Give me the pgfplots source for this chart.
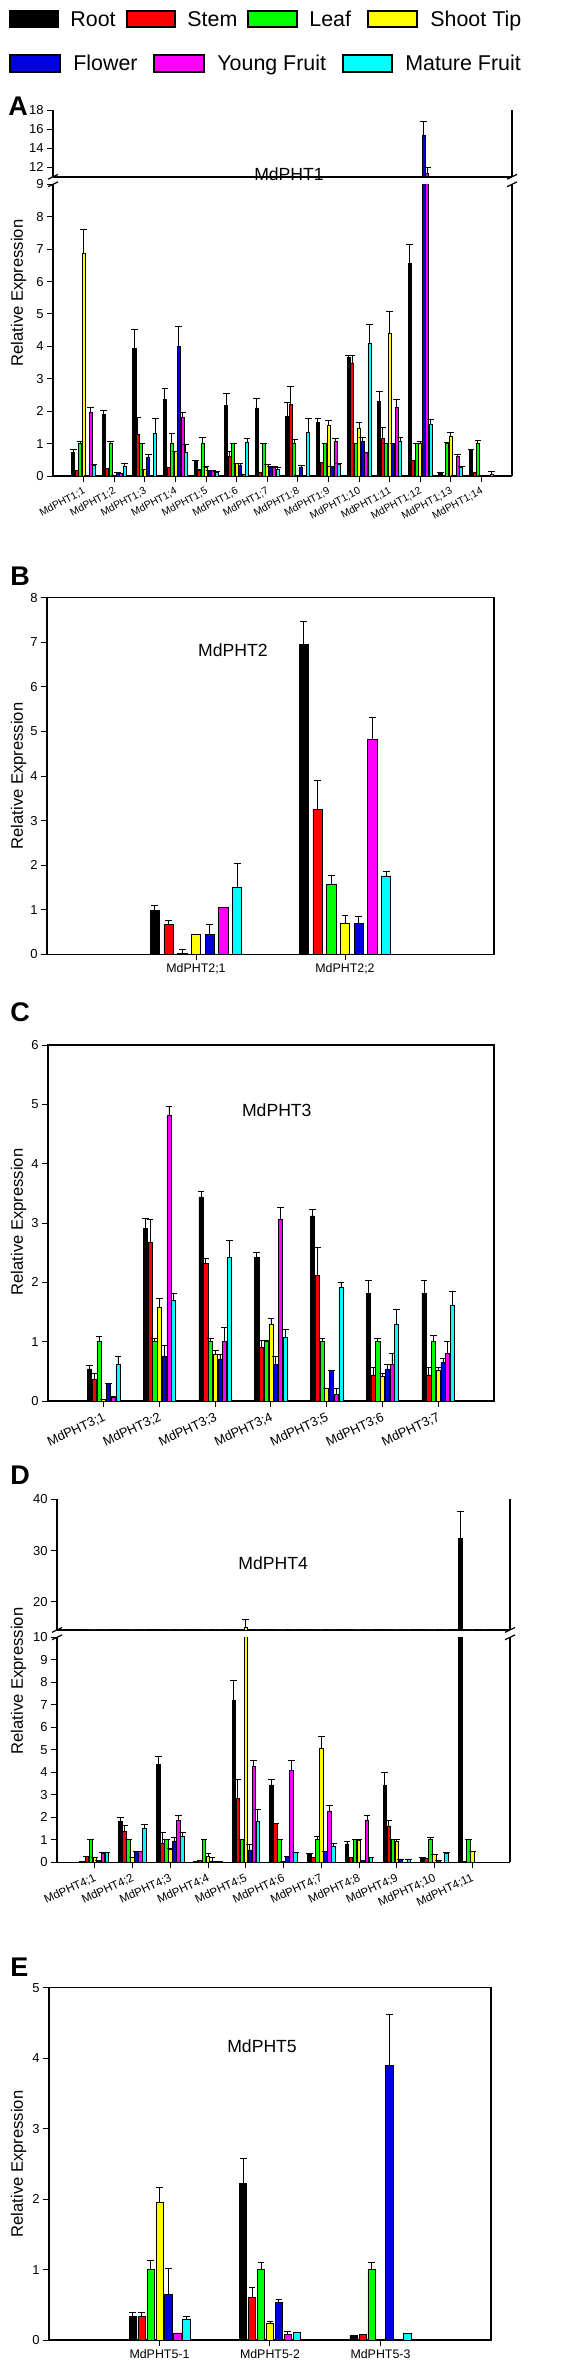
\documentclass[border=0pt]{standalone}
\usepackage{fontspec}
\setmainfont{Liberation Sans}
\usepackage{pgfplots}
\usepackage{pgfplotstable}
\pgfplotsset{compat=1.18}

\definecolor{cRoot}{RGB}{0,0,0}
\definecolor{cStem}{RGB}{255,0,0}
\definecolor{cLeaf}{RGB}{0,255,0}
\definecolor{cTip}{RGB}{255,255,0}
\definecolor{cFlower}{RGB}{0,0,225}
\definecolor{cYF}{RGB}{255,0,255}
\definecolor{cMF}{RGB}{0,255,255}

\pgfplotstableread{
x r re s se l le t te f fe y ye m me
1 0.72 0.10 0.17 0.00 1.00 0.08 6.88 0.72 0.02 0.00 1.95 0.18 0.34 0.02
2 1.89 0.12 0.24 0.00 1.00 0.08 0.02 0.00 0.11 0.00 0.08 0.00 0.29 0.10
3 3.94 0.58 1.30 0.50 1.00 0.02 0.20 0.00 0.59 0.08 0.02 0.00 1.31 0.47
4 2.37 0.34 0.27 0.00 1.00 0.32 0.76 0.00 3.99 0.61 1.80 0.17 0.72 0.24
5 0.48 0.01 0.19 0.00 1.00 0.18 0.26 0.02 0.18 0.00 0.17 0.00 0.10 0.04
6 2.17 0.37 0.60 0.15 1.00 0.01 0.38 0.00 0.32 0.07 0.05 0.00 1.05 0.10
7 2.10 0.30 0.10 0.00 1.00 0.01 0.35 0.02 0.27 0.02 0.28 0.03 0.21 0.04
8 1.84 0.43 2.22 0.53 1.00 0.12 0.02 0.00 0.28 0.06 0.02 0.00 1.34 0.43
9 1.65 0.12 0.41 0.00 1.00 0.01 1.55 0.15 0.29 0.00 1.06 0.09 0.36 0.03
10 3.66 0.05 3.47 0.24 1.00 0.01 1.47 0.18 1.06 0.13 0.72 0.00 4.10 0.59
11 2.29 0.31 1.15 0.35 1.00 0.01 4.41 0.67 1.00 0.01 2.12 0.25 1.08 0.11
12 6.55 0.60 0.49 0.00 1.00 0.02 1.00 0.08 15.40 1.40 11.40 0.60 1.58 0.15
13 0.08 0.02 0.02 0.00 1.00 0.05 1.22 0.12 0.02 0.00 0.60 0.05 0.26 0.02
14 0.80 0.02 0.10 0.00 1.00 0.09 0.01 0.00 0.01 0.00 0.03 0.00 0.05 0.08
}\dataA

\pgfplotstableread{
x r re s se l le t te f fe y ye m me
1 0.99 0.11 0.67 0.09 0.02 0.08 0.45 0.00 0.45 0.22 1.06 0.00 1.51 0.53
2 6.96 0.50 3.26 0.64 1.58 0.20 0.70 0.17 0.70 0.16 4.83 0.48 1.76 0.11
}\dataB

\pgfplotstableread{
x r re s se l le t te f fe y ye m me
1 0.54 0.06 0.37 0.09 1.00 0.08 0.03 0.00 0.30 0.00 0.07 0.00 0.61 0.14
2 2.91 0.17 2.68 0.38 1.00 0.06 1.58 0.15 0.76 0.17 4.81 0.15 1.69 0.12
3 3.44 0.09 2.32 0.09 1.00 0.06 0.79 0.06 0.71 0.07 1.00 0.24 2.42 0.29
4 2.42 0.09 0.90 0.12 1.00 0.02 1.29 0.11 0.61 0.14 3.07 0.20 1.08 0.12
5 3.12 0.11 2.12 0.47 1.00 0.06 0.22 0.00 0.51 0.01 0.11 0.11 1.91 0.08
6 1.82 0.21 0.44 0.13 1.00 0.06 0.41 0.06 0.54 0.07 0.61 0.19 1.30 0.25
7 1.82 0.21 0.44 0.13 1.00 0.10 0.51 0.06 0.65 0.06 0.80 0.20 1.61 0.24
}\dataC

\pgfplotstableread{
x r re s se l le t te f fe y ye m me
1 0.02 0.00 0.25 0.00 1.00 0.00 0.20 0.03 0.10 0.00 0.40 0.03 0.45 0.01
2 1.81 0.19 1.37 0.29 1.00 0.00 0.21 0.00 0.50 0.00 0.50 0.00 1.53 0.16
3 4.36 0.34 0.85 0.47 1.00 0.00 0.58 0.04 0.95 0.15 1.86 0.21 1.15 0.18
4 0.03 0.00 0.10 0.00 1.00 0.00 0.25 0.15 0.06 0.16 0.05 0.00 0.05 0.00
5 7.22 0.88 2.85 0.85 1.00 0.00 15.00 1.50 0.55 0.25 4.26 0.29 1.84 0.49
6 3.44 0.26 1.73 0.00 1.00 0.00 0.02 0.00 0.25 0.00 4.08 0.47 0.43 0.00
7 0.40 0.00 0.20 0.00 1.00 0.14 5.07 0.52 0.47 0.00 2.25 0.27 0.73 0.12
8 0.82 0.10 0.22 0.00 1.00 0.00 0.96 0.06 0.10 0.00 1.88 0.22 0.20 0.00
9 3.40 0.60 1.62 0.26 1.00 0.00 0.95 0.07 0.15 0.00 0.01 0.00 0.15 0.00
10 0.22 0.00 0.18 0.00 1.00 0.10 0.37 0.00 0.08 0.00 0.01 0.00 0.40 0.03
11 32.40 5.20 0.02 0.00 1.00 0.00 0.47 0.00 0.00 0.00 0.00 0.00 0.00 0.00
}\dataD

\pgfplotstableread{
x r re s se l le t te f fe y ye m me
1 0.33 0.06 0.33 0.06 1.00 0.13 1.96 0.21 0.65 0.37 0.10 0.00 0.30 0.03
2 2.22 0.36 0.61 0.13 1.00 0.10 0.24 0.02 0.53 0.05 0.08 0.04 0.11 0.00
3 0.07 0.00 0.08 0.00 1.00 0.10 0.00 0.00 3.90 0.72 0.00 0.00 0.09 0.01
}\dataE

\pgfplotsset{
 panel/.style={scale only axis, anchor=south west, tick align=outside, tick pos=left,
   clip mode=individual,
   major tick length=3pt, tick style={black, line width=0.5pt},
   axis line style={line width=0.75pt},
   /pgf/number format/assume math mode=true,
   yticklabel style={font=\fontsize{6.5}{7.5}\selectfont, inner sep=1.5pt},
   xticklabel style={font=\fontsize{6.2}{7}\selectfont, inner sep=1.5pt}},
 brokenlow/.style={axis x line*=bottom, axis y line*=box, x axis line style={-}, y axis line style={-}},
 brokenup/.style={axis x line*=top, axis y line*=box, x axis line style={-}, y axis line style={-}, xtick=\empty},
 eb/.style={error bars/y dir=plus, error bars/y explicit,
   error bars/error bar style={line width=0.45pt, black},
   error bars/error mark=-,
   error bars/error mark options={rotate=90, line width=0.45pt, black, mark size=1.7pt}},
 bb/.style={ybar, bar shift=0pt, draw=black, line width=0.35pt},
}

\newcommand\seven[9]{%
 \addplot[bb, fill=cRoot, bar width=#2, eb] table[x expr=\thisrow{x}+(#3),y=r,y error=re]{#1};
 \addplot[bb, fill=cStem, bar width=#2, eb] table[x expr=\thisrow{x}+(#4),y=s,y error=se]{#1};
 \addplot[bb, fill=cLeaf, bar width=#2, eb] table[x expr=\thisrow{x}+(#5),y=l,y error=le]{#1};
 \addplot[bb, fill=cTip, bar width=#2, eb] table[x expr=\thisrow{x}+(#6),y=t,y error=te]{#1};
 \addplot[bb, fill=cFlower, bar width=#2, eb] table[x expr=\thisrow{x}+(#7),y=f,y error=fe]{#1};
 \addplot[bb, fill=cYF, bar width=#2, eb] table[x expr=\thisrow{x}+(#8),y=y,y error=ye]{#1};
 \addplot[bb, fill=cMF, bar width=#2, eb] table[x expr=\thisrow{x}+(#9),y=m,y error=me]{#1};
}

\newcommand\titlefont{\fontsize{8.8}{10}\selectfont}
\newcommand\ylabfont{\fontsize{8.3}{9.5}\selectfont}

\begin{document}
\begin{tikzpicture}
\useasboundingbox (0,0) rectangle (290pt,-1183.5pt);

% legend
\begin{scope}[line width=0.6pt]
\filldraw[fill=cRoot, draw=black] (5pt,-5.5pt) rectangle (29pt,-13.5pt);
\filldraw[fill=cStem, draw=black] (63.5pt,-5.5pt) rectangle (87.5pt,-13.5pt);
\filldraw[fill=cLeaf, draw=black] (124pt,-5.5pt) rectangle (148.5pt,-13.5pt);
\filldraw[fill=cTip, draw=black] (184pt,-5.5pt) rectangle (208.5pt,-13.5pt);
\filldraw[fill=cFlower, draw=black] (5pt,-27.5pt) rectangle (30pt,-36pt);
\filldraw[fill=cYF, draw=black] (77pt,-27.5pt) rectangle (102pt,-36pt);
\filldraw[fill=cMF, draw=black] (171.5pt,-27.5pt) rectangle (196pt,-36pt);
\end{scope}
\begin{scope}[every node/.style={anchor=base west, inner sep=0pt, font=\fontsize{10.7}{12}\selectfont}]
\node at (35pt,-13.3pt) {Root};
\node at (93.5pt,-13.3pt) {Stem};
\node at (154.5pt,-13.3pt) {Leaf};
\node at (215pt,-13.3pt) {Shoot Tip};
\node at (36.5pt,-35.3pt) {Flower};
\node at (108.5pt,-35.3pt) {Young Fruit};
\node at (202.5pt,-35.3pt) {Mature Fruit};
\end{scope}

% panel letters
\begin{scope}[every node/.style={anchor=base west, inner sep=0pt, font=\fontsize{13.5}{15}\selectfont\bfseries}]
\node at (4pt,-57.5pt) {A};
\node at (5pt,-292.5pt) {B};
\node at (5pt,-510.5pt) {C};
\node at (5pt,-742pt) {D};
\node at (5pt,-988.3pt) {E};
\end{scope}

% y labels
\begin{scope}[every node/.style={rotate=90, anchor=center, inner sep=0pt, font=\ylabfont}]
\node at (9.25pt,-146.5pt) {Relative Expression};
\node at (9.25pt,-388pt) {Relative Expression};
\node at (9.25pt,-611pt) {Relative Expression};
\node at (9.25pt,-840.5pt) {Relative Expression};
\node at (9.25pt,-1082pt) {Relative Expression};
\end{scope}

% ---------- Panel A ----------
\begin{axis}[panel, brokenlow, name=Alo, at={(26.5pt,-238pt)}, width=229.5pt, height=145.85pt,
  xmin=0, xmax=15, ymin=0, ymax=9, ytick={0,1,...,9},
  xtick={1,...,14},
  xticklabels={MdPHT1;1,MdPHT1;2,MdPHT1;3,MdPHT1;4,MdPHT1;5,MdPHT1;6,MdPHT1;7,MdPHT1;8,MdPHT1;9,MdPHT1;10,MdPHT1;11,MdPHT1;12,MdPHT1;13,MdPHT1;14},
  xticklabel style={rotate=28, anchor=north east, font=\fontsize{5.2}{6}\selectfont}]
\seven{\dataA}{0.10}{-0.342}{-0.228}{-0.114}{0}{0.114}{0.228}{0.342}
\end{axis}
\begin{axis}[panel, brokenup, name=Aup, at={(26.5pt,-88.4pt)}, width=229.5pt, height=33.25pt,
  xmin=0, xmax=15, ymin=11, ymax=18, ytick={12,14,16,18}]
\seven{\dataA}{0.10}{-0.342}{-0.228}{-0.114}{0}{0.114}{0.228}{0.342}
\end{axis}
\node[font=\titlefont] at (144.5pt,-87pt) {MdPHT1};
\begin{scope}[line width=0.6pt]
\draw (Aup.south west) ++(-2.5pt,-1.2pt) -- ++(5pt,2.4pt);
\draw (Alo.north west) ++(-2.5pt,-1.2pt) -- ++(5pt,2.4pt);
\draw (Aup.south east) ++(-2.5pt,-1.2pt) -- ++(5pt,2.4pt);
\draw (Alo.north east) ++(-2.5pt,-1.2pt) -- ++(5pt,2.4pt);
\end{scope}

% ---------- Panel B ----------
\begin{axis}[panel, name=B, at={(23.5pt,-477.15pt)}, width=223.5pt, height=178.3pt,
  xmin=0, xmax=3, ymin=0, ymax=8, ytick={0,1,...,8},
  xtick={1,2}, xticklabels={MdPHT2;1,MdPHT2;2}]
\seven{\dataB}{0.063}{-0.276}{-0.184}{-0.092}{0}{0.092}{0.184}{0.276}
\node[font=\titlefont] at (rel axis cs:0.416,0.853) {MdPHT2};
\end{axis}

% ---------- Panel C ----------
\begin{axis}[panel, name=C, at={(24pt,-700.5pt)}, width=223pt, height=178pt,
  xmin=0, xmax=8, ymin=0, ymax=6, ytick={0,1,...,6},
  xtick={1,...,7},
  xticklabels={MdPHT3;1,MdPHT3;2,MdPHT3;3,MdPHT3;4,MdPHT3;5,MdPHT3;6,MdPHT3;7},
  xticklabel style={rotate=25, anchor=north east, font=\fontsize{6.5}{7.5}\selectfont}]
\seven{\dataC}{0.075}{-0.255}{-0.17}{-0.085}{0}{0.085}{0.17}{0.255}
\node[font=\titlefont] at (rel axis cs:0.513,0.817) {MdPHT3};
\end{axis}

% ---------- Panel D ----------
\begin{axis}[panel, brokenlow, name=Dlo, at={(28.5pt,-931.15pt)}, width=226.5pt, height=112.5pt,
  xmin=0, xmax=12, ymin=0, ymax=10, ytick={0,1,...,10},
  xtick={1,...,11},
  xticklabels={MdPHT4;1,MdPHT4;2,MdPHT4;3,MdPHT4;4,MdPHT4;5,MdPHT4;6,MdPHT4;7,MdPHT4;8,MdPHT4;9,MdPHT4;10,MdPHT4;11},
  xticklabel style={rotate=25, anchor=north east, font=\fontsize{5.8}{7}\selectfont}]
\seven{\dataD}{0.09}{-0.318}{-0.212}{-0.106}{0}{0.106}{0.212}{0.318}
\end{axis}
\begin{axis}[panel, brokenup, name=Dup, at={(28.5pt,-814.95pt)}, width=226.5pt, height=65.3pt,
  xmin=0, xmax=12, ymin=14.5, ymax=40, ytick={20,30,40}]
\seven{\dataD}{0.09}{-0.318}{-0.212}{-0.106}{0}{0.106}{0.212}{0.318}
\node[font=\titlefont] at (rel axis cs:0.477,0.512) {MdPHT4};
\end{axis}
\begin{scope}[line width=0.6pt]
\draw (Dup.south west) ++(-2.5pt,-1.2pt) -- ++(5pt,2.4pt);
\draw (Dlo.north west) ++(-2.5pt,-1.2pt) -- ++(5pt,2.4pt);
\draw (Dup.south east) ++(-2.5pt,-1.2pt) -- ++(5pt,2.4pt);
\draw (Dlo.north east) ++(-2.5pt,-1.2pt) -- ++(5pt,2.4pt);
\end{scope}

% ---------- Panel E ----------
\begin{axis}[panel, name=E, at={(24.5pt,-1170pt)}, width=221pt, height=176.15pt,
  xmin=0, xmax=4, ymin=0, ymax=5, ytick={0,1,...,5},
  xtick={1,2,3}, xticklabels={MdPHT5-1,MdPHT5-2,MdPHT5-3}]
\seven{\dataE}{0.066}{-0.243}{-0.162}{-0.081}{0}{0.081}{0.162}{0.243}
\node[font=\titlefont] at (rel axis cs:0.482,0.835) {MdPHT5};
\end{axis}
\end{tikzpicture}
\end{document}
